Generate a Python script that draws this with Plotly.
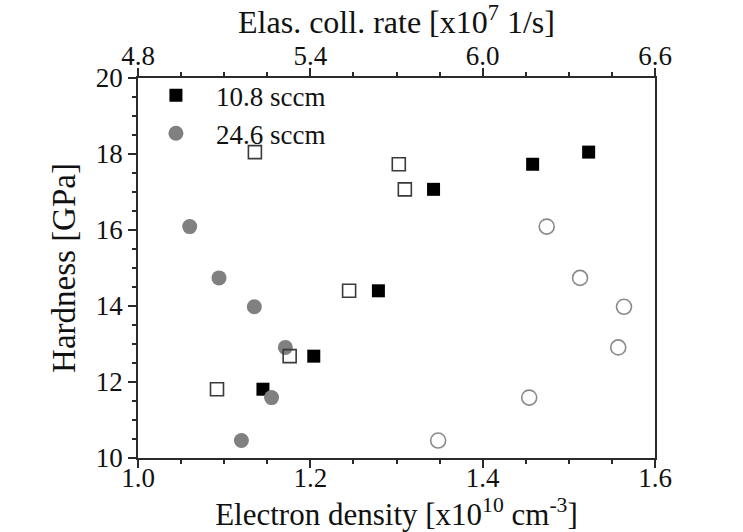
import plotly.graph_objects as go

# 10.8 sccm: electron density (bottom axis) and elastic collision rate (top axis)
ne_108 = [1.523, 1.458, 1.343, 1.279, 1.204, 1.145]
rate_108 = [5.207, 5.708, 5.729, 5.535, 5.328, 5.075]
hard_108 = [18.05, 17.73, 17.07, 14.40, 12.68, 11.81]

# 24.6 sccm
ne_246 = [1.060, 1.094, 1.135, 1.171, 1.155, 1.120]
rate_246 = [6.223, 6.339, 6.492, 6.472, 6.162, 5.845]
hard_246 = [16.09, 14.74, 13.98, 12.91, 11.59, 10.46]

FONT = "Liberation Serif, Times New Roman, serif"
AX = "#2a2a2a"
TXT = "#111111"

fig = go.Figure()
fig.add_trace(go.Scatter(x=ne_108, y=hard_108, mode="markers", name="10.8 sccm",
                         marker=dict(symbol="square", size=13, color="black",
                                     line=dict(width=0))))
fig.add_trace(go.Scatter(x=ne_246, y=hard_246, mode="markers", name="24.6 sccm",
                         marker=dict(symbol="circle", size=15, color="#808080",
                                     line=dict(width=0))))
fig.add_trace(go.Scatter(x=rate_108, y=hard_108, mode="markers", xaxis="x2",
                         showlegend=False,
                         marker=dict(symbol="square-open", size=13, color="#3a3a3a",
                                     line=dict(width=1.6))))
fig.add_trace(go.Scatter(x=rate_246, y=hard_246, mode="markers", xaxis="x2",
                         showlegend=False,
                         marker=dict(symbol="circle-open", size=15, color="#8a8a8a",
                                     line=dict(width=1.6))))

axis_common = dict(showline=True, linecolor=AX, linewidth=1.6, ticks="outside",
                   ticklen=8, tickwidth=1.5, tickcolor=AX, showgrid=False,
                   zeroline=False, automargin=False,
                   tickfont=dict(family=FONT, size=27, color=TXT))

fig.update_layout(
    width=743, height=532,
    margin=dict(l=138, r=88, t=78, b=74),
    paper_bgcolor="white", plot_bgcolor="white",
    font=dict(family=FONT, color=TXT),
    showlegend=True,
    legend=dict(x=-0.004, y=1.018, xanchor="left", yanchor="top",
                bgcolor="rgba(0,0,0,0)", font=dict(family=FONT, size=27, color=TXT),
                itemwidth=70),
    xaxis=dict(range=[1.0, 1.6], dtick=0.2, tick0=1.0, tickformat=".1f",
               ticklabelstandoff=-13,
               minor=dict(dtick=0.05, ticks="outside", ticklen=4, tickwidth=1.5, tickcolor=AX),
               title=dict(text="Electron density [x10<sup>10</sup> cm<sup>-3</sup>]",
                          font=dict(family=FONT, size=31, color=TXT), standoff=14),
               **axis_common),
    xaxis2=dict(range=[4.8, 6.6], dtick=0.6, tick0=4.8, tickformat=".1f",
                overlaying="x", side="top", anchor="y",
                ticklabelstandoff=-8,
                minor=dict(dtick=0.15, ticks="outside", ticklen=4, tickwidth=1.5, tickcolor=AX),
                title=dict(text="Elas. coll. rate [x10<sup>7</sup> 1/s]",
                           font=dict(family=FONT, size=32, color=TXT), standoff=1),
                **axis_common),
    yaxis=dict(range=[10, 20], dtick=2, tick0=10, mirror=True,
               minor=dict(dtick=0.5, ticks="outside", ticklen=4, tickwidth=1.5, tickcolor=AX),
               title=dict(text="Hardness [GPa]",
                          font=dict(family=FONT, size=33, color=TXT), standoff=10),
               **axis_common),
)

fig.write_html("out.html")
